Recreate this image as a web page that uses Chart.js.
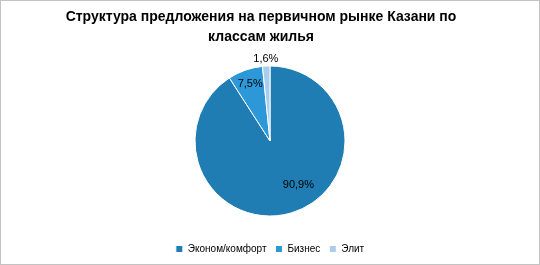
<!DOCTYPE html>
<html>
<head>
<meta charset="utf-8">
<script src="https://cdn.jsdelivr.net/npm/chart.js@4/dist/chart.umd.min.js"></script>
<style>
  body { margin: 0; background: #fff; }
  #wrap { width: 540px; height: 265px; box-sizing: border-box; border: 1px solid #c3c3c3; }
</style>
</head>
<body>
<div id="wrap"><canvas id="chart" width="538" height="263"></canvas></div>
<script>
var titleLines = ["Структура предложения на первичном рынке Казани по", "классам жилья"];
var categories = ["Эконом/комфорт", "Бизнес", "Элит"];
var shares = [90.9, 7.5, 1.6];
var colors = ["#1f7db4", "#2c98d8", "#a9cdeb"];
// where each label sits: fraction along the slice's angle, and fraction of radius
var labelAngle = [0.45, 0.5, 0.5];
var labelDist = [0.7, 0.8, 1.1];

// title is a bit left of centre in the original, so draw it by hand
var leftTitle = {
    id: "leftTitle",
    afterDraw: function (chart) {
        var ctx = chart.ctx;
        ctx.save();
        ctx.font = "bold 14px 'Liberation Sans', Arial, sans-serif";
        ctx.fillStyle = "#000";
        ctx.textAlign = "center";
        ctx.textBaseline = "middle";
        titleLines.forEach(function (line, i) {
            ctx.fillText(line, 260, 16 + i * 20);
        });
        ctx.restore();
    }
};

var sliceLabels = {
    id: "sliceLabels",
    afterDatasetsDraw: function (chart) {
        var ctx = chart.ctx;
        var meta = chart.getDatasetMeta(0);
        ctx.save();
        ctx.font = "11px 'Liberation Sans', Arial, sans-serif";
        ctx.fillStyle = "#000";
        ctx.textAlign = "center";
        ctx.textBaseline = "middle";
        meta.data.forEach(function (arc, i) {
            var a = arc.startAngle + (arc.endAngle - arc.startAngle) * labelAngle[i];
            var r = arc.outerRadius * labelDist[i];
            var x = arc.x + Math.cos(a) * r;
            var y = arc.y + Math.sin(a) * r;
            ctx.fillText(shares[i].toFixed(1).replace(".", ",") + "%", x, y);
        });
        ctx.restore();
    }
};

new Chart(document.getElementById("chart"), {
    type: "pie",
    data: {
        labels: categories,
        datasets: [{
            data: shares,
            backgroundColor: colors,
            borderColor: "#fff",
            borderWidth: 1,
            radius: 75
        }]
    },
    options: {
        responsive: false,
        animation: false,
        layout: { padding: { top: 46 } },
        plugins: {
            title: { display: false },
            legend: {
                position: "bottom",
                labels: {
                    color: "#000",
                    boxWidth: 7,
                    boxHeight: 7,
                    padding: 9,
                    font: { family: "'Liberation Sans', Arial, sans-serif", size: 10 }
                }
            },
            tooltip: { enabled: false }
        }
    },
    plugins: [leftTitle, sliceLabels]
});
</script>
</body>
</html>
